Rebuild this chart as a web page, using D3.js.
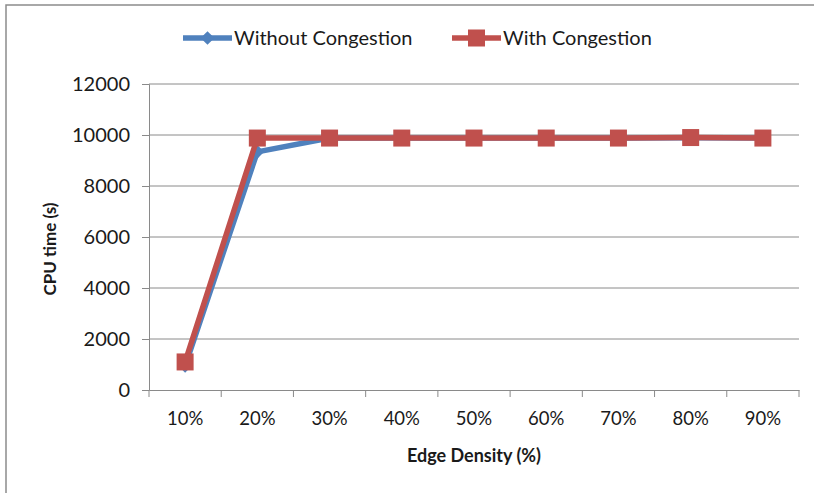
<!DOCTYPE html>
<html><head><meta charset="utf-8">
<script src="https://cdn.jsdelivr.net/npm/d3@7"></script>
<style>body{margin:0;background:#fff}svg{display:block}text{font-family:Lato,"Open Sans",sans-serif;fill:#1a1a1a}</style>
</head><body>
<svg id="c" width="814" height="493"></svg>
<script>
const categories = ["10%","20%","30%","40%","50%","60%","70%","80%","90%"];
const withoutCongestion = [950, 9340, 9880, 9880, 9880, 9880, 9880, 9890, 9880];
const withCongestion = [1100, 9880, 9880, 9880, 9880, 9880, 9880, 9900, 9880];
const yTicks = [0,2000,4000,6000,8000,10000,12000];
const seriesNames = ["Without Congestion","With Congestion"];
const colors = ["#4F81BD","#C0504D"];

const svg = d3.select("#c");
const m = {left:149, right:799, top:84, bottom:390};

// outer frame
svg.append("path").attr("d","M6,493 L6,5 L814,5").attr("fill","none").attr("stroke","#8c8c8c").attr("stroke-width",1.5);

const x = d3.scaleBand().domain(categories).range([m.left,m.right]).padding(0);
const y = d3.scaleLinear().domain([0,12000]).range([m.bottom,m.top]);

// gridlines
svg.append("g").selectAll("line").data(yTicks.filter(d=>d>0)).join("line")
  .attr("x1",m.left).attr("x2",m.right).attr("y1",d=>y(d)).attr("y2",d=>y(d))
  .attr("stroke","#8a8a8a").attr("stroke-width",1);

// y axis
const ya = svg.append("g").attr("transform",`translate(${m.left},0)`)
  .call(d3.axisLeft(y).tickValues(yTicks).tickSize(7).tickPadding(12).tickFormat(d3.format("d")));
ya.select(".domain").attr("stroke","#8a8a8a");
ya.selectAll(".tick line").attr("stroke","#8a8a8a");
ya.selectAll("text").attr("font-size",20).attr("font-family","Lato").attr("fill","#1a1a1a");

// x axis
const xa = svg.append("g").attr("transform",`translate(0,${m.bottom})`)
  .call(d3.axisBottom(x).tickSize(0).tickPadding(22));
xa.select(".domain").attr("stroke","#8a8a8a");
xa.selectAll("text").attr("font-size",18.5).attr("font-family","Lato").attr("fill","#1a1a1a");
// boundary ticks
const bounds = categories.map(c=>x(c)).concat([x(categories[categories.length-1])+x.bandwidth()]);
svg.append("g").selectAll("line").data(bounds).join("line")
  .attr("x1",d=>d).attr("x2",d=>d).attr("y1",m.bottom).attr("y2",m.bottom+7)
  .attr("stroke","#8a8a8a");

// axis titles
svg.append("text").attr("x",(m.left+m.right)/2).attr("y",462).attr("text-anchor","middle")
  .attr("font-size",18).attr("font-weight","bold").text("Edge Density (%)");
svg.append("text").attr("transform",`translate(56,${(m.top+m.bottom)/2+12}) rotate(-90)`).attr("text-anchor","middle")
  .attr("font-size",17).attr("font-weight","bold").text("CPU time (s)");

const cx = c => x(c)+x.bandwidth()/2;
const line = d3.line().x((d,i)=>cx(categories[i])).y(d=>y(d));

// series 1: without
svg.append("path").datum(withoutCongestion).attr("d",line).attr("fill","none")
  .attr("stroke",colors[0]).attr("stroke-width",5.5).attr("stroke-linejoin","round");
svg.append("g").selectAll("path").data(withoutCongestion).join("path")
  .attr("d",d3.symbol(d3.symbolDiamond2,120)())
  .attr("transform",(d,i)=>`translate(${cx(categories[i])},${y(d)})`)
  .attr("fill",colors[0]);

// series 2: with
svg.append("path").datum(withCongestion).attr("d",line).attr("fill","none")
  .attr("stroke",colors[1]).attr("stroke-width",5.5).attr("stroke-linejoin","round");
svg.append("g").selectAll("rect").data(withCongestion).join("rect")
  .attr("x",(d,i)=>cx(categories[i])-8.5).attr("y",d=>y(d)-8.5).attr("width",17).attr("height",17)
  .attr("fill",colors[1]);

// legend
const lg = svg.append("g");
const legX = [183, 452];
seriesNames.forEach((n,i)=>{
  const g = lg.append("g").attr("transform",`translate(${legX[i]},38)`);
  g.append("line").attr("x1",0).attr("x2",49).attr("y1",0).attr("y2",0).attr("stroke",colors[i]).attr("stroke-width",5.5);
  if(i===0) g.append("path").attr("d",d3.symbol(d3.symbolDiamond2,120)()).attr("transform","translate(24.5,0)").attr("fill",colors[i]);
  else g.append("rect").attr("x",16).attr("y",-8.5).attr("width",17).attr("height",17).attr("fill",colors[i]);
  g.append("text").attr("x",51).attr("y",7).attr("font-size",20).text(n);
});
</script>
</body></html>
